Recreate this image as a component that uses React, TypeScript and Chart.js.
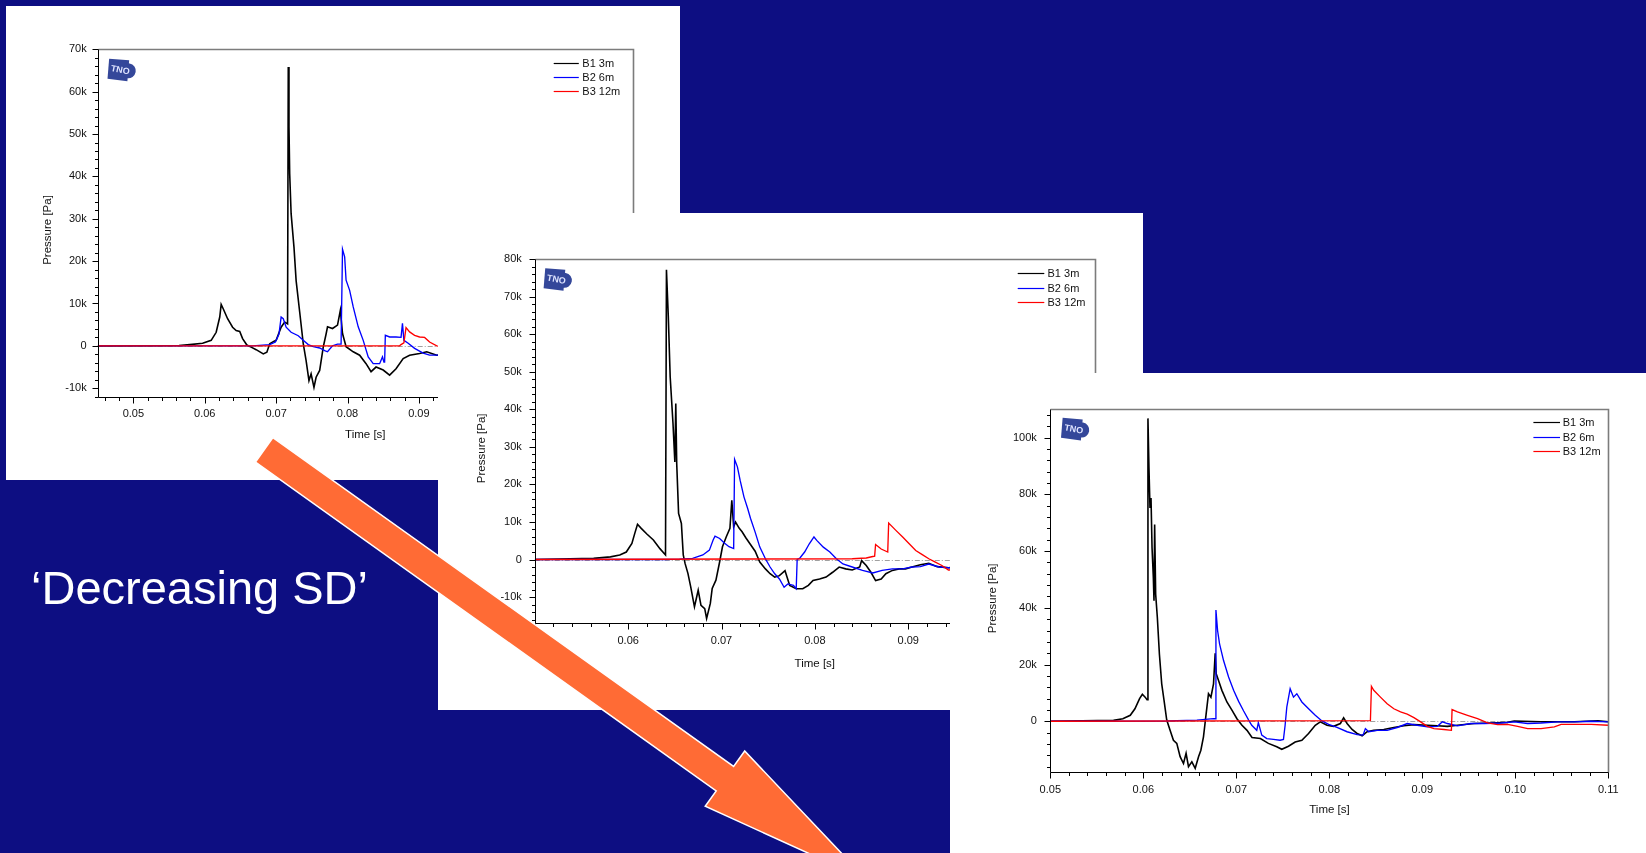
import React, { useEffect, useRef } from 'react';
import { Chart, registerables } from 'chart.js';

Chart.register(...registerables);

// ---------------- data (time in s, pressure in kPa) ----------------
// Chart 1 (largest SD)
const c1B1Time = [0.045, 0.0564, 0.0579, 0.0597, 0.0609, 0.0616, 0.0621, 0.0623, 0.0626, 0.0632, 0.0639, 0.0644, 0.0649, 0.0653, 0.0659, 0.0665, 0.0672, 0.0682, 0.0687, 0.0691, 0.0696, 0.07, 0.0707, 0.0712, 0.0716, 0.0717, 0.0718, 0.0719, 0.0721, 0.0725, 0.0728, 0.0733, 0.0738, 0.0742, 0.0746, 0.0749, 0.0753, 0.0756, 0.0761, 0.0766, 0.077, 0.0772, 0.0779, 0.0786, 0.079, 0.0793, 0.0798, 0.0808, 0.0817, 0.0826, 0.0833, 0.084, 0.085, 0.0859, 0.0868, 0.0878, 0.0887, 0.0901, 0.0911, 0.0925, 0.096, 0.1, 0.11, 0.12];
const c1B1Pressure = [0, 0.1, 0.3, 0.6, 1.3, 3.2, 6.8, 9.8, 8.7, 6.4, 4.4, 3.6, 3.4, 1.7, 0.2, -0.3, -0.9, -1.9, -1.5, 0.5, 1.0, 1.3, 4.4, 5.6, 5.2, 65.8, 51.7, 40.6, 31.2, 23.3, 15.4, 8.0, 0.5, -3.5, -8.2, -6.6, -9.8, -7.4, -5.8, -0.3, 2.8, 4.5, 4.1, 4.9, 8.4, 2.9, -0.2, -1.4, -2.2, -4.2, -6.1, -5.0, -5.7, -6.9, -5.4, -3.0, -2.2, -1.8, -1.4, -2.2, -1.5, -1.0, -0.5, 0];
const c1B2Time = [0.045, 0.0667, 0.0691, 0.0699, 0.0704, 0.0707, 0.071, 0.0714, 0.0721, 0.0731, 0.0738, 0.0745, 0.0752, 0.0761, 0.0768, 0.0772, 0.0779, 0.0786, 0.0791, 0.0793, 0.0796, 0.0798, 0.0803, 0.0808, 0.0815, 0.0822, 0.0829, 0.0836, 0.0845, 0.0849, 0.0851, 0.0852, 0.0853, 0.0859, 0.0868, 0.0875, 0.0877, 0.0879, 0.0885, 0.0894, 0.0906, 0.0915, 0.0925, 0.1, 0.12];
const c1B2Pressure = [0, 0, 0.3, 0.9, 2.8, 6.8, 6.4, 4.4, 3.2, 2.4, 1.3, 0.3, -0.2, -0.5, -1.1, -1.4, 0, 0.4, 0.4, 22.8, 21.0, 15.5, 13.1, 9.2, 4.5, 1.3, -2.6, -4.2, -4.2, -2.6, -3.8, -3.8, 2.5, 2.1, 2.1, 2.0, 5.3, 1.3, 0.6, -0.6, -1.7, -2.2, -2.2, -1.5, -0.5];
const c1B3Time = [0.045, 0.0873, 0.0875, 0.0879, 0.0882, 0.0887, 0.0894, 0.0901, 0.0908, 0.0915, 0.0925, 0.1, 0.12];
const c1B3Pressure = [0, 0, 0.3, 0.7, 4.3, 3.3, 2.5, 2.1, 2.0, 0.9, 0, -1.0, 0];

// Chart 2 (medium SD)
const c2B1Time = [0.05, 0.0563, 0.0581, 0.0591, 0.0598, 0.0604, 0.0607, 0.061, 0.0614, 0.062, 0.0627, 0.0634, 0.064, 0.0641, 0.0643, 0.0645, 0.0648, 0.065, 0.0651, 0.0652, 0.0654, 0.0657, 0.0659, 0.0661, 0.0664, 0.0667, 0.0671, 0.0675, 0.0678, 0.0682, 0.0684, 0.0688, 0.069, 0.0694, 0.0698, 0.0701, 0.0705, 0.0709, 0.0711, 0.0713, 0.0715, 0.0719, 0.0722, 0.0726, 0.0731, 0.0736, 0.0741, 0.0747, 0.0752, 0.0757, 0.0762, 0.0768, 0.0773, 0.078, 0.0787, 0.0793, 0.0798, 0.0805, 0.0812, 0.0819, 0.0826, 0.0833, 0.084, 0.0848, 0.085, 0.0855, 0.086, 0.0865, 0.0871, 0.0876, 0.0883, 0.089, 0.0897, 0.0904, 0.0913, 0.0922, 0.0931, 0.0943, 0.1, 0.11];
const c2B1Pressure = [0, 0.3, 0.7, 1.2, 2.0, 4.3, 6.9, 9.4, 8.3, 6.8, 5.2, 2.9, 1.2, 77.2, 64.7, 48.7, 36.3, 26.0, 41.6, 25.6, 12.3, 9.6, 1.2, -1.1, -3.7, -7.3, -12.6, -8.2, -12.2, -13.1, -15.7, -11.7, -7.7, -5.5, -0.6, 3.4, 6.0, 8.3, 15.8, 8.7, 10.0, 8.3, 7.4, 5.8, 4.0, 2.2, -0.7, -2.5, -3.8, -4.7, -4.3, -3.0, -6.9, -7.8, -7.8, -6.9, -5.6, -5.2, -4.7, -3.4, -2.0, -2.5, -2.8, -2.0, -0.3, -1.6, -3.4, -5.6, -5.2, -3.8, -2.9, -2.5, -2.5, -2.0, -1.4, -1.0, -1.9, -2.2, -1.0, -0.5];
const c2B2Time = [0.05, 0.064, 0.0655, 0.0669, 0.068, 0.0687, 0.0691, 0.0693, 0.0698, 0.0703, 0.0708, 0.0713, 0.0714, 0.0717, 0.072, 0.0724, 0.0728, 0.0731, 0.0736, 0.0741, 0.0747, 0.0752, 0.0757, 0.0762, 0.0767, 0.0771, 0.0777, 0.078, 0.0781, 0.0784, 0.0789, 0.0794, 0.0799, 0.0802, 0.0809, 0.0816, 0.0823, 0.083, 0.084, 0.0851, 0.0862, 0.0872, 0.0883, 0.0894, 0.0904, 0.0913, 0.0922, 0.0933, 0.0943, 0.1, 0.11];
const c2B2Pressure = [0, 0, 0.1, 0.3, 1.2, 2.5, 5.2, 6.2, 5.6, 4.4, 3.4, 2.9, 26.7, 24.7, 21.0, 16.7, 13.6, 11.0, 7.3, 3.3, 0.2, -2.0, -3.8, -5.2, -7.4, -6.5, -6.9, -7.8, 0, 0.4, 2.0, 4.2, 6.0, 5.1, 3.3, 2.0, 0.2, -1.2, -2.0, -2.9, -3.6, -2.9, -2.5, -2.5, -2.0, -1.9, -1.2, -2.0, -2.2, -1.5, -1.0];
const c2B3Time = [0.05, 0.084, 0.0855, 0.0862, 0.0864, 0.0865, 0.0871, 0.0878, 0.0879, 0.0887, 0.0894, 0.0901, 0.0908, 0.0915, 0.0922, 0.0929, 0.0936, 0.0943, 0.1, 0.11];
const c2B3Pressure = [0, 0.2, 0.4, 0.8, 0.9, 4.0, 2.8, 2.0, 9.7, 7.7, 6.0, 4.2, 2.4, 1.3, 0.2, -0.7, -1.6, -2.8, -2.0, -1.0];

// Chart 3 (smallest SD)
const c3B1Time = [0.05, 0.0568, 0.0578, 0.0586, 0.0591, 0.0596, 0.0599, 0.0602, 0.0604, 0.0605, 0.06061, 0.06072, 0.06083, 0.06094, 0.06108, 0.06115, 0.06122, 0.06133, 0.06151, 0.06173, 0.06198, 0.06223, 0.06252, 0.06288, 0.06324, 0.0636, 0.06396, 0.06432, 0.0646, 0.06486, 0.06522, 0.06558, 0.06594, 0.06619, 0.06647, 0.06676, 0.06701, 0.06727, 0.06755, 0.06773, 0.06784, 0.06809, 0.06845, 0.06899, 0.06953, 0.07007, 0.07061, 0.07115, 0.07169, 0.07259, 0.07345, 0.07435, 0.07489, 0.07561, 0.07633, 0.07705, 0.07777, 0.07849, 0.07903, 0.07975, 0.08046, 0.08119, 0.08154, 0.08191, 0.08245, 0.08299, 0.08353, 0.08407, 0.08478, 0.08586, 0.08694, 0.08802, 0.0891, 0.09054, 0.09162, 0.0927, 0.09378, 0.09557, 0.09737, 0.09917, 0.09989, 0.10277, 0.10636, 0.10889, 0.11];
const c3B1Pressure = [0, 0.3, 0.9, 2.1, 4.4, 8.0, 9.5, 8.5, 7.6, 106.8, 89.2, 75.2, 78.7, 61.2, 50.6, 42.5, 69.4, 44.8, 36.6, 23.7, 13.2, 7.4, 0.4, -3.2, -6.7, -7.8, -12.5, -14.9, -11.3, -16.0, -14.3, -16.6, -12.5, -10.2, -5.5, 2.7, 9.7, 8.5, 13.2, 24.0, 16.7, 14.4, 10.9, 6.8, 3.9, 0.9, -1.4, -3.2, -5.7, -6.1, -7.8, -9.0, -9.9, -8.8, -7.3, -6.7, -4.3, -1.4, -0.2, -1.4, -1.8, -0.8, 1.2, -0.8, -2.9, -4.3, -5.1, -3.7, -3.2, -2.9, -2.2, -1.6, -1.2, -1.4, -1.6, -1.8, -1.4, -0.8, -0.6, -0.4, 0.1, -0.2, -0.2, 0.2, -0.2];
const c3B2Time = [0.05, 0.06252, 0.06576, 0.06755, 0.06773, 0.06781, 0.06799, 0.0682, 0.06863, 0.06917, 0.06971, 0.07025, 0.07079, 0.07133, 0.07166, 0.0722, 0.07237, 0.07274, 0.07328, 0.07399, 0.07471, 0.07507, 0.07525, 0.07543, 0.07579, 0.07615, 0.07651, 0.07705, 0.07777, 0.07849, 0.07921, 0.07993, 0.08083, 0.08191, 0.08299, 0.08363, 0.08388, 0.08424, 0.08515, 0.08622, 0.0873, 0.08838, 0.08946, 0.09054, 0.09162, 0.09216, 0.0927, 0.09378, 0.09521, 0.09665, 0.09845, 0.09989, 0.10133, 0.10277, 0.10457, 0.10636, 0.10816, 0.11];
const c3B2Pressure = [0, 0.1, 0.4, 0.9, 0.9, 39.2, 31.9, 27.3, 21.4, 15.6, 10.9, 7.0, 3.6, 0.4, -1.4, -3.2, -0.5, -4.9, -6.1, -6.4, -6.7, -6.4, -1.4, 5.0, 11.5, 8.5, 9.7, 6.8, 4.4, 2.1, 0.1, -1.1, -2.2, -3.7, -4.7, -4.9, -2.6, -3.7, -3.2, -3.2, -2.2, -0.8, -1.4, -2.0, -1.8, -0.2, -0.8, -1.6, -0.8, -0.8, -0.6, -0.2, -0.8, -0.6, -0.2, -0.2, 0, -0.2];
const c3B3Time = [0.05, 0.08442, 0.08453, 0.08478, 0.0855, 0.08622, 0.08694, 0.08766, 0.08838, 0.0891, 0.08982, 0.09054, 0.09125, 0.09233, 0.09313, 0.0932, 0.09378, 0.09486, 0.09594, 0.09702, 0.09809, 0.09917, 0.10025, 0.10133, 0.10277, 0.1042, 0.10493, 0.10636, 0.10816, 0.11];
const c3B3Pressure = [0, 0.2, 12.3, 10.9, 8.5, 6.2, 4.4, 3.3, 2.5, 1.3, -0.2, -1.8, -2.6, -2.9, -3.2, 4.1, 3.3, 2.1, 0.9, -0.6, -1.2, -1.1, -1.8, -2.6, -2.6, -2.0, -1.1, -1.1, -1.1, -1.4];

// tick labels
const c1XTicks = [0.05, 0.06, 0.07, 0.08, 0.09, 0.1, 0.11, 0.12];
const c1YTicks = [-10, 0, 10, 20, 30, 40, 50, 60, 70];
const c2XTicks = [0.05, 0.06, 0.07, 0.08, 0.09, 0.1, 0.11];
const c2YTicks = [-10, 0, 10, 20, 30, 40, 50, 60, 70, 80];
const c3XTicks = [0.05, 0.06, 0.07, 0.08, 0.09, 0.1, 0.11];
const c3YTicks = [0, 20, 40, 60, 80, 100];

const seriesNames = ['B1 3m', 'B2 6m', 'B3 12m'];
const seriesColors = ['#000000', '#0000ff', '#ff0000'];
const slideTitle = '\u2018Decreasing SD\u2019';

// ---------------- styling / layout ----------------
const BG = '#0d0e82';
const ORANGE = '#ff6b35';
const FONT = "'Liberation Sans', Arial, Helvetica, sans-serif";

type Spec = {
  left: number; top: number; width: number; height: number; z: number;
  area: { l: number; t: number; r: number; b: number };
  xMin: number; xMax: number; xMinor: number; xMajor: number;
  yMin: number; yMax: number; yMinor: number; yMajor: number;
  xTicks: number[]; yTicks: number[];
  times: number[][]; values: number[][];
  yLabelGap: number; xLabelDy: number;
  xTitle: [number, number]; yTitle: [number, number];
  legend: { x0: number; x1: number; tx: number; rows: number[] };
  logo: [number, number];
};

const specs: Spec[] = [
  {
    left: 6, top: 6, width: 674, height: 474, z: 1,
    area: { l: 91.7, t: 43.3, r: 627, b: 390.7 },
    xMin: 0.045, xMax: 0.12, xMinor: 0.002, xMajor: 0.01,
    yMin: -12, yMax: 70, yMinor: 2, yMajor: 10,
    xTicks: c1XTicks, yTicks: c1YTicks,
    times: [c1B1Time, c1B2Time, c1B3Time], values: [c1B1Pressure, c1B2Pressure, c1B3Pressure],
    yLabelGap: 11, xLabelDy: 17.6,
    xTitle: [359.3, 429], yTitle: [41.5, 224],
    legend: { x0: 547.7, x1: 572.8, tx: 576.3, rows: [57.3, 71.3, 84.7] },
    logo: [115.3, 64],
  },
  {
    left: 438, top: 213, width: 705, height: 497, z: 2,
    area: { l: 96.8, t: 46.3, r: 657, b: 410.3 },
    xMin: 0.05, xMax: 0.11, xMinor: 0.002, xMajor: 0.01,
    yMin: -17, yMax: 80, yMinor: 2, yMajor: 10,
    xTicks: c2XTicks, yTicks: c2YTicks,
    times: [c2B1Time, c2B2Time, c2B3Time], values: [c2B1Pressure, c2B2Pressure, c2B3Pressure],
    yLabelGap: 13, xLabelDy: 17.7,
    xTitle: [376.8, 451.3], yTitle: [43.4, 235.3],
    legend: { x0: 579.7, x1: 606.3, tx: 609.5, rows: [60.3, 75, 89.3] },
    logo: [119.4, 66.5],
  },
  {
    left: 950, top: 373, width: 696, height: 480, z: 3,
    area: { l: 100.3, t: 36.3, r: 658.3, b: 399.3 },
    xMin: 0.05, xMax: 0.11, xMinor: 0.002, xMajor: 0.01,
    yMin: -18, yMax: 110, yMinor: 4, yMajor: 20,
    xTicks: c3XTicks, yTicks: c3YTicks,
    times: [c3B1Time, c3B2Time, c3B3Time], values: [c3B1Pressure, c3B2Pressure, c3B3Pressure],
    yLabelGap: 13.5, xLabelDy: 17.7,
    xTitle: [379.5, 437], yTitle: [43.1, 225.3],
    legend: { x0: 583.4, x1: 610, tx: 612.7, rows: [49.3, 64, 78] },
    logo: [124.8, 56.2],
  },
];

function drawLogo(ctx: CanvasRenderingContext2D, cx: number, cy: number) {
  ctx.save();
  ctx.translate(cx, cy);
  ctx.rotate(0.18);
  ctx.fillStyle = '#34479a';
  ctx.beginPath();
  ctx.moveTo(-14, -9);
  ctx.lineTo(6, -11);
  ctx.lineTo(8, 10);
  ctx.lineTo(-12, 11);
  ctx.closePath();
  ctx.fill();
  ctx.beginPath();
  ctx.arc(7, -0.5, 7.5, 0, Math.PI * 2);
  ctx.fill();
  ctx.fillStyle = '#dfe4ff';
  ctx.font = `bold 9px ${FONT}`;
  ctx.textAlign = 'center';
  ctx.textBaseline = 'middle';
  ctx.fillText('TNO', -1, 0.5);
  ctx.restore();
}

function makeOverlay(s: Spec) {
  return {
    id: 'tnoOverlay',
    beforeDatasetsDraw(chart: any) {
      const { ctx, chartArea: a, scales } = chart;
      const y0 = Math.round(scales.y.getPixelForValue(0)) + 0.5;
      ctx.save();
      ctx.strokeStyle = '#a0a0a0';
      ctx.lineWidth = 1;
      ctx.setLineDash([5, 2, 1, 2]);
      ctx.beginPath();
      ctx.moveTo(a.left, y0);
      ctx.lineTo(a.right, y0);
      ctx.stroke();
      ctx.restore();
    },
    afterDatasetsDraw(chart: any) {
      const { ctx, chartArea: a, scales } = chart;
      const xs = scales.x;
      const ys = scales.y;
      const L = Math.round(a.left) + 0.5;
      const R = Math.round(a.right) + 0.5;
      const T = Math.round(a.top) + 0.5;
      const B = Math.round(a.bottom) + 0.5;
      ctx.save();
      // frame
      ctx.strokeStyle = '#7c7c7c';
      ctx.lineWidth = 1.6;
      ctx.beginPath();
      ctx.moveTo(L, T);
      ctx.lineTo(R, T);
      ctx.lineTo(R, B);
      ctx.stroke();
      ctx.strokeStyle = '#000';
      ctx.lineWidth = 1;
      ctx.beginPath();
      ctx.moveTo(L, T);
      ctx.lineTo(L, B);
      ctx.lineTo(R, B);
      ctx.stroke();
      // y ticks
      ctx.beginPath();
      for (let k = Math.ceil(s.yMin / s.yMinor - 1e-9); k * s.yMinor <= s.yMax + 1e-9; k++) {
        const v = k * s.yMinor;
        const q = v / s.yMajor;
        const major = Math.abs(q - Math.round(q)) < 1e-6;
        const py = Math.round(ys.getPixelForValue(v)) + 0.5;
        ctx.moveTo(L, py);
        ctx.lineTo(L - (major ? 6 : 3.5), py);
      }
      // x ticks
      for (let k = Math.ceil(s.xMin / s.xMinor - 1e-9); k * s.xMinor <= s.xMax + 1e-9; k++) {
        const v = k * s.xMinor;
        const q = v / s.xMajor;
        const major = Math.abs(q - Math.round(q)) < 1e-6;
        const px = Math.round(xs.getPixelForValue(v)) + 0.5;
        ctx.moveTo(px, B);
        ctx.lineTo(px, B + (major ? 6 : 3.5));
      }
      ctx.stroke();
      // tick labels
      ctx.fillStyle = '#111';
      ctx.font = `11px ${FONT}`;
      ctx.textAlign = 'right';
      ctx.textBaseline = 'middle';
      s.yTicks.forEach((v) => {
        ctx.fillText(v === 0 ? '0' : `${v}k`, a.left - s.yLabelGap, ys.getPixelForValue(v));
      });
      ctx.textAlign = 'center';
      s.xTicks.forEach((v) => {
        ctx.fillText(v.toFixed(2), xs.getPixelForValue(v), a.bottom + s.xLabelDy);
      });
      // axis titles
      ctx.font = `11.5px ${FONT}`;
      ctx.fillText('Time [s]', s.xTitle[0], s.xTitle[1]);
      ctx.save();
      ctx.translate(s.yTitle[0], s.yTitle[1]);
      ctx.rotate(-Math.PI / 2);
      ctx.fillText('Pressure [Pa]', 0, 0);
      ctx.restore();
      // legend
      ctx.font = `11px ${FONT}`;
      ctx.textAlign = 'left';
      chart.data.datasets.forEach((ds: any, i: number) => {
        const y = Math.round(s.legend.rows[i]) + 0.5;
        ctx.strokeStyle = ds.borderColor;
        ctx.lineWidth = 1.2;
        ctx.beginPath();
        ctx.moveTo(s.legend.x0, y);
        ctx.lineTo(s.legend.x1, y);
        ctx.stroke();
        ctx.fillStyle = '#111';
        ctx.fillText(ds.label, s.legend.tx, y);
      });
      drawLogo(ctx, s.logo[0], s.logo[1]);
      ctx.restore();
    },
  };
}

function PressurePanel({ spec }: { spec: Spec }) {
  const ref = useRef<HTMLCanvasElement>(null);
  useEffect(() => {
    const canvas = ref.current;
    if (!canvas) return;
    const s = spec;
    const datasets = s.times.map((t, i) => ({
      label: seriesNames[i],
      data: t.map((x, j) => ({ x, y: s.values[i][j] })),
      borderColor: seriesColors[i],
      borderWidth: i === 0 ? 1.6 : 1.35,
      pointRadius: 0,
      fill: false,
      tension: 0,
      order: 2 - i,
    }));
    const chart = new Chart(canvas, {
      type: 'line',
      data: { datasets } as any,
      options: {
        responsive: false,
        animation: false,
        events: [],
        layout: {
          padding: {
            left: s.area.l,
            top: s.area.t,
            right: s.width - s.area.r,
            bottom: s.height - s.area.b,
          },
        },
        scales: {
          x: { type: 'linear', display: false, min: s.xMin, max: s.xMax },
          y: { type: 'linear', display: false, min: s.yMin, max: s.yMax },
        },
        plugins: { legend: { display: false }, tooltip: { enabled: false } },
      },
      plugins: [makeOverlay(s)],
    } as any);
    return () => chart.destroy();
  }, [spec]);
  return (
    <div
      style={{
        position: 'absolute',
        left: spec.left,
        top: spec.top,
        width: spec.width,
        height: spec.height,
        background: '#ffffff',
        zIndex: spec.z,
      }}
    >
      <canvas ref={ref} width={spec.width} height={spec.height} style={{ display: 'block' }} />
    </div>
  );
}

function arrowPoints(): string {
  const A = [264.2, 449.8];
  const d = [0.814, 0.581];
  const n = [-0.581, 0.814];
  const hw = 15;
  const headT = 566;
  const headW = 34;
  const tipT = 740;
  const P = (t: number, o: number) => [A[0] + d[0] * t + n[0] * o, A[1] + d[1] * t + n[1] * o];
  const pts = [P(0, -hw), P(headT, -hw), P(headT, -headW), P(tipT, 0), P(headT, headW), P(headT, hw), P(0, hw)];
  return pts.map((p) => `${p[0].toFixed(1)},${p[1].toFixed(1)}`).join(' ');
}

export default function App() {
  useEffect(() => {
    document.body.style.margin = '0';
  }, []);
  return (
    <div
      style={{
        position: 'fixed',
        left: 0,
        top: 0,
        width: 1646,
        height: 853,
        background: BG,
        overflow: 'hidden',
      }}
    >
      {specs.map((s, i) => (
        <PressurePanel key={i} spec={s} />
      ))}
      <svg
        width={1646}
        height={853}
        style={{ position: 'absolute', left: 0, top: 0, zIndex: 5, pointerEvents: 'none' }}
      >
        <text x={31} y={604} fill="#ffffff" fontFamily={FONT} fontSize={47}>
          {slideTitle}
        </text>
        <polygon points={arrowPoints()} fill={ORANGE} stroke="#ffffff" strokeWidth={1.5} strokeLinejoin="miter" />
      </svg>
    </div>
  );
}
